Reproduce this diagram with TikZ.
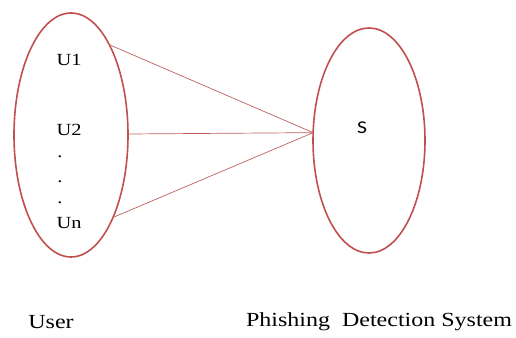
\documentclass[tikz,border=0pt]{standalone}
\usepackage{fontspec}
\setmainfont{Liberation Serif}
\newfontfamily\sfont{Carlito}
\usetikzlibrary{shapes.geometric}
\definecolor{ringred}{RGB}{192,80,77}
\definecolor{linkred}{RGB}{190,95,95}
\tikzset{
  group/.style={ellipse,draw=ringred,line width=1.6pt,inner sep=0pt,outer sep=0pt},
  member/.style={font=\fontsize{17}{17}\selectfont,inner sep=0pt,xscale=1.2},
  caption/.style={font=\fontsize{20}{20}\selectfont,inner sep=0pt,xscale=1.2},
  link/.style={draw=linkred,line width=0.7pt}
}

\begin{document}
\begin{tikzpicture}[x=1pt,y=1pt]
  \useasboundingbox (0,0) rectangle (516,337);

    % -- the two groups --
    \node[group,minimum width=114pt,minimum height=244pt] (user) at (71,202) {};
    \node[group,minimum width=112pt,minimum height=225pt] (pds) at (369,196.5) {};

    % -- users inside the left ellipse --
    \node[member] (u1) at (69,277) {U1};
    \node[member] (u2) at (69,207) {U2};
    \node[member,anchor=base] (d1) at (60,179) {.};
    \node[member,anchor=base] (d2) at (60,154) {.};
    \node[member,anchor=base] (d3) at (60,133) {.};
    \node[member] (un) at (69,114) {Un};

    % -- system inside the right ellipse --
    \node[member,font=\sfont\fontsize{18}{18}\selectfont] (s) at (362,209) {S};

    % -- connectors from users to the system --
    \draw[link] (user.67) -- (pds.172);
    \draw[link] (user.1) -- (pds.172);
    \draw[link] (user.-63) -- (pds.172);

    % -- captions --
    \node[caption] (usercap) at (51,15) {User};
    \node[caption] (pdscap) at (379,15) {Phishing\ \ Detection System};

\end{tikzpicture}
\end{document}
